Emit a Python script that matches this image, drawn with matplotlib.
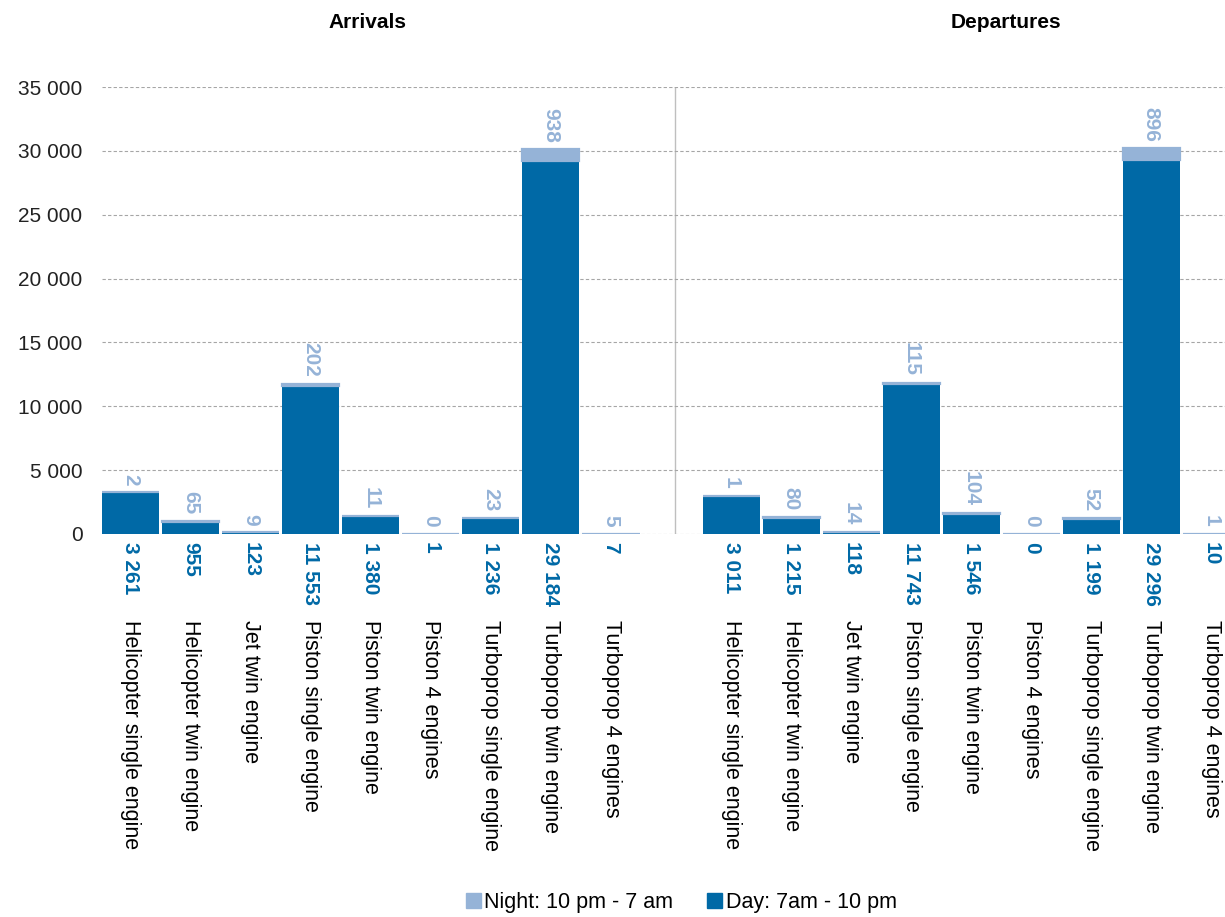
import numpy as np
import matplotlib
matplotlib.use("Agg")
import matplotlib.pyplot as plt
from matplotlib.patches import Patch

plt.rcParams["font.family"] = ["Liberation Sans", "DejaVu Sans"]

# ── data ──────────────────────────────────────────────
categories = [
    "Helicopter single engine", "Helicopter twin engine", "Jet twin engine",
    "Piston single engine", "Piston twin engine", "Piston 4 engines",
    "Turboprop single engine", "Turboprop twin engine", "Turboprop 4 engines",
]
groups = ["Arrivals", "Departures"]

arr_day = [3261, 955, 123, 11553, 1380, 1, 1236, 29184, 7]
arr_night = [2, 65, 9, 202, 11, 0, 23, 938, 5]
dep_day = [3011, 1215, 118, 11743, 1546, 0, 1199, 29296, 10]
dep_night = [1, 80, 14, 115, 104, 0, 52, 896, 1]

y_ticks = [0, 5000, 10000, 15000, 20000, 25000, 30000, 35000]

DAY = "#0069A6"
NIGHT = "#95B3D7"
FS = 15.5

def fmt(v):
    return f"{v:,}".replace(",", " ")

# ── figure ────────────────────────────────────────────
fig = plt.figure(figsize=(12.25, 9.17), dpi=100)
ax = fig.add_axes([0.0833, 0.4177, 0.9167, 0.4873])

n = len(categories)
x_arr = np.arange(n)
x_dep = np.arange(n) + n + 1
x_all = np.concatenate([x_arr, x_dep])
day = np.array(arr_day + dep_day)
night = np.array(arr_night + dep_night)
w = 0.95

ax.bar(x_all, day, width=w, color=DAY, zorder=3)
ax.bar(x_all, night, bottom=day, width=w, color=NIGHT,
       edgecolor=NIGHT, linewidth=1.6, zorder=3)

ax.set_xlim(-0.48, 18.23)
ax.set_ylim(0, 35000)
ax.set_yticks(y_ticks)
ax.set_yticklabels([fmt(v) for v in y_ticks], fontsize=15, color="#222222")
ax.tick_params(axis="y", length=0, pad=14)
ax.yaxis.grid(True, linestyle=(0, (3, 2)), color="#A6A6A6", linewidth=0.8, zorder=0)
for s in ax.spines.values():
    s.set_visible(False)

# separator between groups
ax.axvline(n + 0.07, color="#BFBFBF", linewidth=1.0, zorder=1)

# category labels below
ax.set_xticks(x_all)
ax.set_xticklabels(categories * 2, rotation=-90, fontsize=FS, va="top", ha="center")
ax.tick_params(axis="x", length=0, pad=62)

# day labels under axis
for xi, v in zip(x_all, day):
    ax.annotate(fmt(v), xy=(xi, 0), xytext=(0, -6), textcoords="offset points",
                rotation=-90, ha="center", va="top", fontsize=15,
                fontweight="bold", color=DAY, annotation_clip=False)

# night labels above bars
for xi, d, v in zip(x_all, day, night):
    ax.annotate(fmt(v), xy=(xi, d + v), xytext=(0, 5), textcoords="offset points",
                rotation=-90, ha="center", va="bottom", fontsize=15,
                fontweight="bold", color=NIGHT, annotation_clip=False)

# group titles
fig.text(0.300, 0.975, groups[0], ha="center", va="center", fontsize=15, fontweight="bold")
fig.text(0.821, 0.975, groups[1], ha="center", va="center", fontsize=15, fontweight="bold")

handles = [Patch(color=NIGHT, label="Night: 10 pm - 7 am"),
           Patch(color=DAY, label="Day: 7am - 10 pm")]
fig.legend(handles=handles, loc="center", bbox_to_anchor=(0.556, 0.016), ncol=2,
           frameon=False, fontsize=FS, handlelength=0.7, handleheight=0.7,
           handletextpad=0.15, columnspacing=1.6, borderpad=0.1)

fig.savefig("out.png", dpi=100)
